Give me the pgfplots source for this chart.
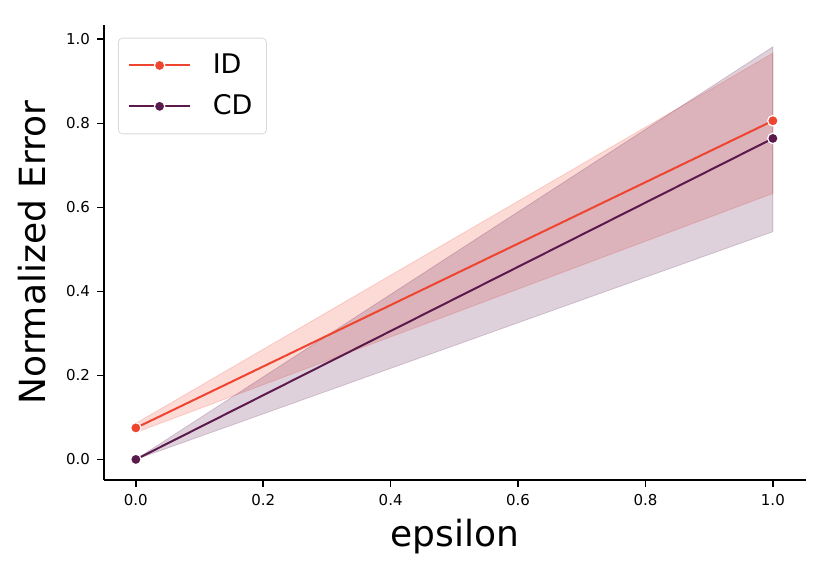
\documentclass[border=0pt]{standalone}
\usepackage{pgfplots}
\pgfplotsset{compat=1.18}
\usepackage{fontspec}
\setmainfont{DejaVu Sans}
\definecolor{idc}{HTML}{EE4430}
\definecolor{cdc}{HTML}{5C1A4C}
\begin{document}
\begin{tikzpicture}
\begin{axis}[
  scale only axis, width=351pt, height=227.5pt,
  xmin=-0.05, xmax=1.052, ymin=-0.049, ymax=1.034,
  axis x line*=bottom, axis y line*=left,
  axis line style={line width=0.8pt, -},
  tick style={line width=0.8pt, black},
  tick align=outside, major tick length=3.5pt,
  xtick={0,0.2,0.4,0.6,0.8,1.0}, ytick={0,0.2,0.4,0.6,0.8,1.0},
  /pgf/number format/assume math mode=true,
  /pgf/number format/.cd, fixed, fixed zerofill, precision=1, /pgfplots/.cd,
  ticklabel style={font=\fontsize{7.5}{9}\selectfont},
  xlabel={epsilon}, ylabel={Normalized Error},
  label style={font=\fontsize{18}{21}\selectfont},
  xlabel style={yshift=0pt},
  ylabel style={yshift=3pt},
  legend style={at={(0.02,0.972)}, anchor=north west, draw=black!15, rounded corners=2pt,
    font=\fontsize{13.5}{16}\selectfont, inner xsep=5pt, inner ysep=6pt, row sep=5pt, cells={anchor=west}},
  legend cell align=left,
  legend image code/.code={\draw[mark repeat=2,mark phase=2] plot coordinates {(0cm,0cm) (0.53cm,0cm) (1.06cm,0cm)};},
]
\addplot[forget plot, fill=idc, fill opacity=0.2, draw=idc, draw opacity=0.2] coordinates {(0,0.064) (1,0.633) (1,0.967) (0,0.086)} -- cycle;
\addplot[forget plot, fill=cdc, fill opacity=0.2, draw=cdc, draw opacity=0.2] coordinates {(0,0) (1,0.542) (1,0.982) (0,0)} -- cycle;
\addplot[idc, line width=1pt, mark=*, mark size=2.6pt, mark options={fill=idc, draw=white, line width=0.6pt}] coordinates {(0,0.075) (1,0.806)};
\addlegendentry{\hspace*{9pt}ID}
\addplot[cdc, line width=1pt, mark=*, mark size=2.6pt, mark options={fill=cdc, draw=white, line width=0.6pt}] coordinates {(0,0.0) (1,0.764)};
\addlegendentry{\hspace*{9pt}CD}
\end{axis}
\pgfresetboundingbox
\useasboundingbox ([shift={(-52pt,-46.5pt)}]current axis.south west) rectangle ([shift={(12pt,12.5pt)}]current axis.north east);
\end{tikzpicture}
\end{document}
